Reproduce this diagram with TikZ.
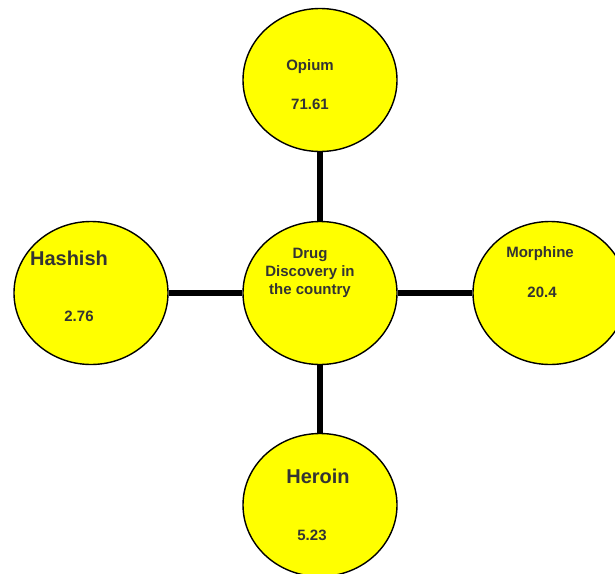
\documentclass[tikz,border=0pt]{standalone}
\usepackage{fontspec}
\setmainfont{Liberation Sans}
\usetikzlibrary{shapes.geometric}
\definecolor{txt}{HTML}{333333}
\definecolor{fillyel}{HTML}{FFFF00}
\tikzset{
  bubble/.style={ellipse, draw=black, line width=1.4pt, fill=fillyel, minimum width=154pt, minimum height=143pt, inner sep=0pt},
  link/.style={line width=6pt, black},
  small/.style={font=\fontsize{15}{18}\selectfont\bfseries, text=txt, inner sep=0pt},
  big/.style={font=\fontsize{20}{24}\selectfont\bfseries, text=txt, inner sep=0pt}
}
\begin{document}
\begin{tikzpicture}[x=1pt,y=-1pt]
\useasboundingbox (0,0) rectangle (615,573);
\node[bubble] (top) at (320,80) {};
\node[bubble] (center) at (320,293) {};
\node[bubble] (left) at (91,293) {};
\node[bubble] (right) at (550,293) {};
\node[bubble] (bottom) at (320,505) {};
\draw[link] (top.south) -- (center.north);
\draw[link] (center.south) -- (bottom.north);
\draw[link] (left.east) -- (center.west);
\draw[link] (center.east) -- (right.west);
\node[small] (opium) at (310,67) {Opium};
\node[small] (opiumv) at (310,104) {71.61};
\node[small, align=center] (ctext) at (310,273) {Drug\\Discovery in\\the country};
\node[big] (hashish) at (69,258) {Hashish};
\node[small] (hashishv) at (79,316) {2.76};
\node[small] (morphine) at (540,254) {Morphine};
\node[small] (morphinev) at (542,292) {20.4};
\node[big] (heroin) at (318,476) {Heroin};
\node[small] (heroinv) at (312,535) {5.23};
\end{tikzpicture}
\end{document}
